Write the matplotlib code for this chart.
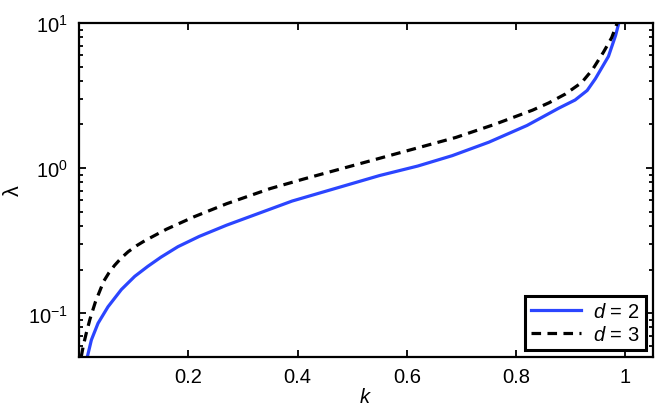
import numpy as np
import matplotlib
matplotlib.use("Agg")
import matplotlib.pyplot as plt
from matplotlib.ticker import FixedLocator, LogLocator, NullFormatter

### DATOS
### ------------------

# d = 2 (linea azul)
k_d2 = [0.015, 0.0226, 0.0348, 0.053, 0.0775, 0.102, 0.126, 0.15, 0.181, 0.22,
        0.27, 0.39, 0.55, 0.62, 0.683, 0.75, 0.82, 0.878, 0.908, 0.93,
        0.945, 0.969, 0.982, 0.988]
lam_d2 = [0.0498, 0.0656, 0.0855, 0.111, 0.146, 0.18, 0.211, 0.244, 0.288, 0.339,
          0.405, 0.594, 0.89, 1.035, 1.22, 1.51, 1.97, 2.59, 2.95, 3.43,
          4.13, 5.89, 8.2, 10.0]

# d = 3 (linea discontinua)
k_d3 = [0.004, 0.008, 0.013, 0.02, 0.03, 0.045, 0.055, 0.065, 0.077, 0.09,
        0.105, 0.12, 0.16, 0.21, 0.27, 0.35, 0.41, 0.55, 0.69, 0.76,
        0.83, 0.86, 0.89, 0.92, 0.94, 0.96, 0.975, 0.985]
lam_d3 = [0.0501, 0.0603, 0.0724, 0.0912, 0.12, 0.166, 0.191, 0.214, 0.24, 0.266,
          0.292, 0.316, 0.38, 0.462, 0.569, 0.724, 0.84, 1.17, 1.63, 2.0,
          2.51, 2.82, 3.24, 3.89, 4.79, 6.31, 7.94, 10.0]

labels = [r'$d$ = 2', r'$d$ = 3']
xticks = [0.2, 0.4, 0.6, 0.8, 1.0]
xtick_labels = ['0.2', '0.4', '0.6', '0.8', '1']

### ESTILO
### ------------------

plt.rcParams['font.family'] = ['Liberation Sans', 'DejaVu Sans']
plt.rcParams['mathtext.fontset'] = 'custom'
plt.rcParams['mathtext.rm'] = 'Liberation Sans'
plt.rcParams['mathtext.it'] = 'Liberation Sans:italic'
plt.rcParams['font.size'] = 14.5

### PLOT
### ------------------

fig = plt.figure(figsize=(6.64, 4.14), dpi=100)
ax = fig.add_axes([0.119, 0.135, 0.864, 0.807])

ax.plot(k_d2, lam_d2, color='#2b45ff', lw=2.3, label=labels[0])
ax.plot(k_d3, lam_d3, color='black', lw=2.3, dashes=(3, 2), label=labels[1])

ax.set_yscale('log')
ax.set_xlim(0, 1.05)
ax.set_ylim(0.05, 10)

ax.xaxis.set_major_locator(FixedLocator(xticks))
ax.set_xticklabels(xtick_labels)
ax.yaxis.set_major_locator(LogLocator(base=10, numticks=10))
ax.yaxis.set_minor_locator(LogLocator(base=10, subs=np.arange(2, 10), numticks=10))
ax.yaxis.set_minor_formatter(NullFormatter())

ax.tick_params(which='both', direction='in', top=True, right=True, width=1.3)
ax.tick_params(axis='x', pad=7)
ax.tick_params(axis='y', pad=8)
ax.tick_params(which='major', length=5)
ax.tick_params(which='minor', length=3)
for s in ax.spines.values():
    s.set_linewidth(1.6)

ax.set_xlabel(r'$k$', labelpad=1)
ax.set_ylabel('λ', fontsize=15.5)
# posicion de la etiqueta y (fuera de los numeros del eje)
ax.yaxis.set_label_coords(-0.097, 0.5)

leg = ax.legend(loc='lower right', fancybox=False, framealpha=1, edgecolor='black',
                handlelength=2.5, borderaxespad=0.35, borderpad=0.3, labelspacing=0.2,
                handletextpad=0.6)
leg.get_frame().set_linewidth(2.2)

fig.savefig('out.png', dpi=100)
